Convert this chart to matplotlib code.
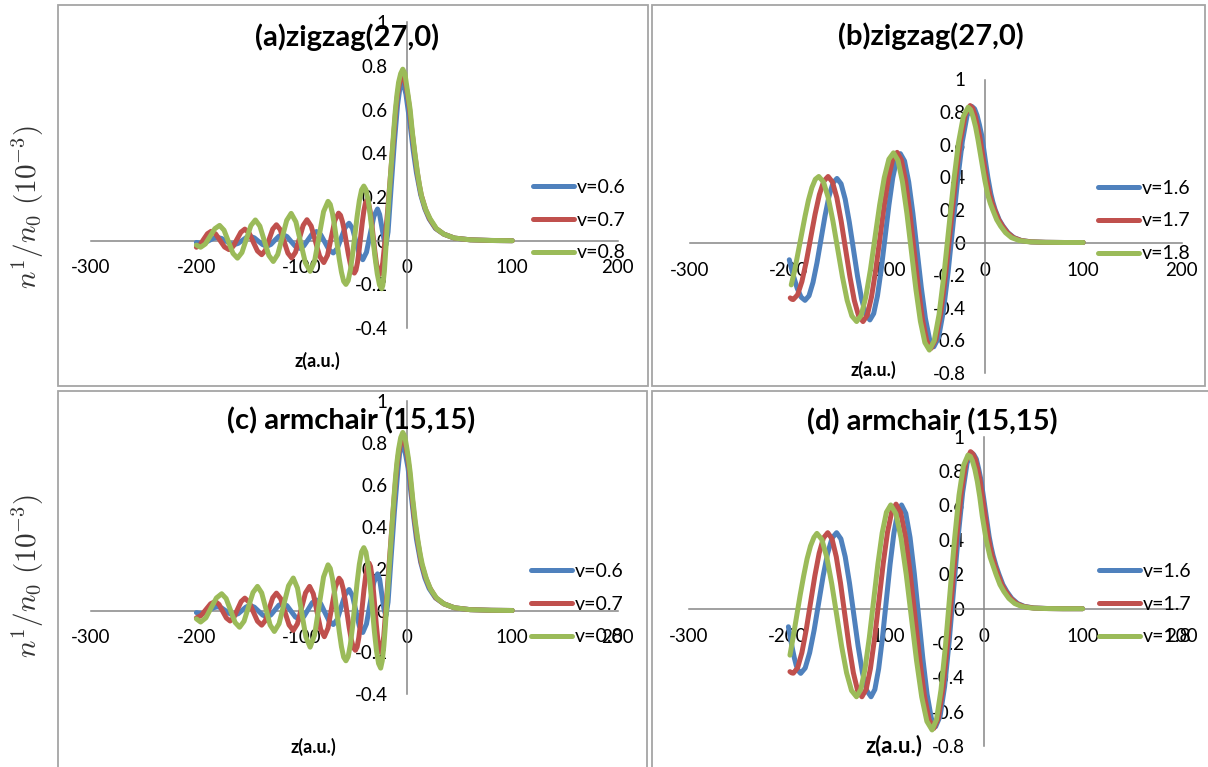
import numpy as np
import matplotlib.pyplot as plt
from matplotlib.patches import Rectangle

plt.rcParams['font.family'] = ['Lato', 'DejaVu Sans']
plt.rcParams['mathtext.fontset'] = 'cm'

W, H = 1208, 767

# ---- data: (z, n1/n0) pairs ----
# panel (a) zigzag(27,0), low speeds
a_v06 = [(-200, -0.008), (-195, -0.012), (-191.25, -0.008), (-187.5, 0.002), (-183.75, 0.011), (-180, 0.015),
         (-176, 0.010), (-172, -0.002), (-168, -0.013), (-164, -0.018), (-160.25, -0.012), (-156.5, 0.001),
         (-152.75, 0.014), (-149, 0.020), (-145, 0.013), (-141, -0.003), (-137, -0.018), (-133, -0.025),
         (-129.25, -0.017), (-125.5, 0.002), (-121.75, 0.020), (-118, 0.028), (-114, 0.019), (-110, -0.004),
         (-106, -0.026), (-102, -0.035), (-98, -0.024), (-94, 0.004), (-90, 0.031), (-86, 0.042), (-82, 0.028),
         (-78, -0.007), (-74, -0.042), (-70, -0.056), (-66.25, -0.036), (-62.5, 0.012), (-58.75, 0.060),
         (-55, 0.080), (-51.75, 0.056), (-48.5, -0.004), (-45.25, -0.063), (-42, -0.087), (-38.5, -0.053),
         (-35, 0.029), (-31.5, 0.111), (-28, 0.145), (-26, 0.12), (-24, 0.065), (-22, 0.01), (-20, -0.02),
         (-18, 0.04), (-15, 0.25), (-12, 0.45), (-9, 0.62), (-7, 0.69), (-5, 0.725), (-3, 0.71), (-1, 0.67),
         (1, 0.6), (3, 0.53), (6, 0.41), (9, 0.31), (13, 0.21), (17, 0.145), (21, 0.10), (27, 0.056),
         (35, 0.03), (45, 0.012), (60, 0.004), (80, 0.001), (100, 0.0)]
a_v07 = [(-200, -0.03), (-196.5, -0.019), (-193, 0.007), (-189.5, 0.032), (-186, 0.043), (-181.75, 0.031),
         (-177.5, 0.001), (-173.25, -0.029), (-169, -0.041), (-165.25, -0.027), (-161.5, 0.006), (-157.75, 0.039),
         (-154, 0.053), (-150, 0.036), (-146, -0.006), (-142, -0.047), (-138, -0.064), (-134.5, -0.044),
         (-131, 0.005), (-127.5, 0.053), (-124, 0.073), (-120.4, 0.051), (-116.75, -0.003), (-113.1, -0.057),
         (-109.5, -0.079), (-105.9, -0.053), (-102.25, 0.009), (-98.6, 0.07), (-95, 0.096), (-91, 0.067),
         (-87, -0.002), (-83, -0.071), (-79, -0.10), (-75.5, -0.067), (-72, 0.013), (-68.5, 0.093), (-65, 0.126),
         (-63.13, 0.116), (-61.25, 0.086), (-59.38, 0.042), (-57.5, -0.011), (-55.63, -0.063), (-53.75, -0.108),
         (-51.88, -0.138), (-50, -0.148), (-48.5, -0.135), (-47, -0.099), (-45.5, -0.045), (-44, 0.019),
         (-42.5, 0.082), (-41, 0.136), (-39.5, 0.172), (-38, 0.185), (-36.5, 0.172), (-35, 0.135),
         (-33.5, 0.080), (-32, 0.015), (-30.5, -0.050), (-29, -0.105), (-27.5, -0.142), (-26, -0.155),
         (-24.5, -0.14), (-23, -0.10), (-21.5, -0.03), (-20, 0.05), (-18.5, 0.13), (-17, 0.22), (-15.5, 0.31),
         (-14, 0.40), (-12.5, 0.49), (-11, 0.58), (-9.5, 0.65), (-8, 0.70), (-6, 0.745), (-4.5, 0.76),
         (-3, 0.75), (-1, 0.71), (0.5, 0.67), (2, 0.62), (4.5, 0.51), (7, 0.41), (9.5, 0.32), (11.5, 0.26),
         (13.5, 0.21), (17.5, 0.145), (21.5, 0.10), (27.5, 0.056), (35, 0.03), (45, 0.012), (60, 0.004),
         (80, 0.001), (100, 0.0)]
a_v08 = [(-200, -0.02), (-196, -0.03), (-191.5, -0.015), (-187, 0.02), (-182.5, 0.055), (-178, 0.07),
         (-173.75, 0.048), (-169.5, -0.005), (-165.25, -0.058), (-161, -0.08), (-156.75, -0.054), (-152.5, 0.008),
         (-148.25, 0.069), (-144, 0.095), (-139.75, 0.067), (-135.5, 0.0), (-131.25, -0.067), (-127, -0.095),
         (-122.75, -0.063), (-118.5, 0.015), (-114.25, 0.093), (-110, 0.125), (-105.5, 0.086), (-101, -0.008),
         (-96.5, -0.101), (-92, -0.14), (-87.75, -0.093), (-83.5, 0.02), (-79.25, 0.133), (-75, 0.18),
         (-72.88, 0.166), (-70.75, 0.124), (-68.63, 0.063), (-66.5, -0.01), (-64.38, -0.083), (-62.25, -0.144),
         (-60.13, -0.186), (-58, -0.2), (-55.88, -0.183), (-53.75, -0.134), (-51.63, -0.061), (-49.5, 0.025),
         (-47.38, 0.111), (-45.25, 0.184), (-43.13, 0.233), (-41, 0.25), (-38.88, 0.232), (-36.75, 0.181),
         (-34.63, 0.105), (-32.5, 0.015), (-30.38, -0.075), (-28.25, -0.151), (-26.13, -0.202), (-24, -0.22),
         (-23, -0.205), (-21.5, -0.14), (-20, -0.03), (-18.5, 0.1), (-17, 0.21), (-15.5, 0.31), (-14, 0.41),
         (-12.5, 0.51), (-11, 0.6), (-9.5, 0.67), (-8, 0.725), (-6, 0.765), (-4, 0.785), (-2, 0.765),
         (0, 0.70), (1.5, 0.65), (3, 0.6), (5, 0.5), (7.5, 0.4), (10, 0.31), (12, 0.25), (14, 0.2), (18, 0.14),
         (22, 0.1), (28, 0.055), (35, 0.03), (45, 0.012), (60, 0.004), (80, 0.001), (100, 0.0)]

# panel (b) zigzag(27,0), high speeds
b_v16 = [(-199, -0.106), (-195, -0.2), (-191, -0.28), (-187, -0.335), (-183, -0.355),
         (-178.94, -0.327), (-174.88, -0.245), (-170.81, -0.124), (-166.75, 0.019), (-162.69, 0.162),
         (-158.63, 0.283), (-154.56, 0.365), (-150.5, 0.393),
         (-146.31, 0.360), (-142.13, 0.266), (-137.94, 0.125), (-133.75, -0.041), (-129.56, -0.207),
         (-125.38, -0.348), (-121.19, -0.442), (-117, -0.475),
         (-113.13, -0.436), (-109.25, -0.326), (-105.38, -0.160), (-101.5, 0.035), (-97.63, 0.230),
         (-93.75, 0.396), (-89.88, 0.506), (-86, 0.545),
         (-81.75, 0.500), (-77.5, 0.371), (-73.25, 0.179), (-69, -0.048), (-64.75, -0.274),
         (-60.5, -0.466), (-56.25, -0.595), (-52, -0.64),
         (-47.16, -0.584), (-42.33, -0.424), (-37.49, -0.185), (-32.65, 0.098), (-27.81, 0.380),
         (-22.98, 0.619), (-18.14, 0.779), (-13.3, 0.835),
         (-10.5, 0.82), (-8, 0.78), (-5.5, 0.72), (-3, 0.65), (-1, 0.565), (1, 0.48), (3, 0.40), (6, 0.30),
         (8, 0.25), (10.5, 0.20), (14.5, 0.14), (18.5, 0.10), (23.5, 0.06), (29.5, 0.03), (37, 0.012),
         (47, 0.004), (62, 0.001), (80, 0.0), (100, 0.0)]
b_v17 = [(-198, -0.34), (-196.5, -0.348), (-195, -0.35),
         (-190.56, -0.321), (-186.13, -0.239), (-181.69, -0.117), (-177.25, 0.028), (-172.81, 0.172),
         (-168.38, 0.294), (-163.94, 0.376), (-159.5, 0.405),
         (-155.06, 0.371), (-150.63, 0.275), (-146.19, 0.130), (-141.75, -0.04), (-137.31, -0.210),
         (-132.88, -0.355), (-128.44, -0.451), (-124, -0.485),
         (-119.66, -0.446), (-115.33, -0.333), (-110.99, -0.165), (-106.65, 0.034), (-102.31, 0.233),
         (-97.98, 0.401), (-93.64, 0.514), (-89.3, 0.553),
         (-84.99, 0.507), (-80.68, 0.377), (-76.36, 0.182), (-72.05, -0.049), (-67.74, -0.279),
         (-63.43, -0.474), (-59.11, -0.604), (-54.8, -0.65),
         (-49.83, -0.593), (-44.85, -0.432), (-39.88, -0.190), (-34.9, 0.095), (-29.93, 0.380),
         (-24.95, 0.622), (-19.98, 0.783), (-15, 0.84),
         (-12.5, 0.825), (-10, 0.78), (-7.5, 0.715), (-5, 0.64), (-2.5, 0.545), (0, 0.45), (2, 0.38),
         (5, 0.29), (7.5, 0.24), (10, 0.20), (14, 0.14), (18, 0.10), (23, 0.06), (29, 0.03), (37, 0.012),
         (47, 0.004), (62, 0.001), (80, 0.0), (100, 0.0)]
b_v18 = [(-197, -0.26), (-193.5, -0.17), (-190, -0.06), (-186.5, 0.05), (-183, 0.16), (-179.5, 0.26),
         (-176, 0.337), (-172.5, 0.388), (-169, 0.405),
         (-164.19, 0.371), (-159.38, 0.275), (-154.56, 0.130), (-149.75, -0.04), (-144.94, -0.210),
         (-140.13, -0.355), (-135.31, -0.451), (-130.5, -0.485),
         (-125.81, -0.446), (-121.13, -0.333), (-116.44, -0.166), (-111.75, 0.033), (-107.06, 0.231),
         (-102.38, 0.398), (-97.69, 0.511), (-93, 0.55),
         (-88.44, 0.504), (-83.88, 0.373), (-79.31, 0.177), (-74.75, -0.055), (-70.19, -0.287),
         (-65.63, -0.483), (-61.06, -0.614), (-56.5, -0.66),
         (-51.56, -0.603), (-46.63, -0.442), (-41.69, -0.200), (-36.75, 0.085), (-31.81, 0.370),
         (-26.88, 0.612), (-21.94, 0.773), (-17, 0.83),
         (-14.5, 0.815), (-12, 0.77), (-9.5, 0.71), (-7, 0.63), (-4.5, 0.54), (-2, 0.45), (0, 0.38),
         (3, 0.29), (5.5, 0.24), (8, 0.20), (12, 0.14), (16, 0.10), (21, 0.06), (27, 0.03), (35, 0.012),
         (45, 0.004), (60, 0.001), (80, 0.0), (100, 0.0)]

# panel (c) armchair (15,15), low speeds
c_v06 = [(-200, -0.01), (-195, -0.015), (-191.25, -0.01), (-187.5, 0.002), (-183.75, 0.013), (-180, 0.018),
         (-176, 0.012), (-172, -0.002), (-168, -0.016), (-164, -0.022), (-160.25, -0.015), (-156.5, 0.001),
         (-152.75, 0.017), (-149, 0.024), (-145, 0.016), (-141, -0.003), (-137, -0.022), (-133, -0.03),
         (-129.25, -0.021), (-125.5, 0.002), (-121.75, 0.025), (-118, 0.034), (-114, 0.023), (-110, -0.004),
         (-106, -0.031), (-102, -0.042), (-98, -0.029), (-94, 0.004), (-90, 0.037), (-86, 0.05), (-82, 0.033),
         (-78, -0.009), (-74, -0.05), (-70, -0.067), (-66.25, -0.043), (-62.5, 0.017), (-58.75, 0.076),
         (-55, 0.10), (-51.75, 0.07), (-48.5, -0.003), (-45.25, -0.075), (-42, -0.105), (-38.5, -0.064),
         (-35, 0.035), (-31.5, 0.134), (-28, 0.175), (-26, 0.15), (-24, 0.08), (-22, 0.01), (-20, -0.025),
         (-18, 0.04), (-15, 0.26), (-12, 0.47), (-9, 0.65), (-7, 0.75), (-5, 0.80), (-3, 0.785), (-1, 0.735),
         (1, 0.68), (4, 0.55), (6.5, 0.44), (9, 0.34), (13, 0.23), (17, 0.155), (21, 0.105), (27, 0.06),
         (35, 0.032), (45, 0.013), (60, 0.004), (80, 0.001), (100, 0.0)]
c_v07 = [(-200, -0.035), (-195.5, -0.024), (-191, 0.004), (-186.5, 0.032), (-182, 0.043), (-178.5, 0.029),
         (-175, -0.004), (-171.5, -0.036), (-168, -0.05), (-164.5, -0.034), (-161, 0.005), (-157.5, 0.043),
         (-154, 0.059), (-150, 0.04), (-146, -0.006), (-142, -0.051), (-138, -0.07), (-134.5, -0.048),
         (-131, 0.007), (-127.5, 0.061), (-124, 0.083), (-120, 0.057), (-116, -0.006), (-112, -0.069),
         (-108, -0.095), (-104.1, -0.064), (-100.25, 0.01), (-96.4, 0.084), (-92.5, 0.115), (-89, 0.08),
         (-85.5, -0.005), (-82, -0.09), (-78.5, -0.125), (-75, -0.084), (-71.5, 0.015), (-68, 0.113),
         (-64.5, 0.154), (-62.56, 0.141), (-60.63, 0.104), (-58.69, 0.048), (-56.75, -0.018), (-54.81, -0.084),
         (-52.88, -0.140), (-50.94, -0.177), (-49, -0.19), (-47.38, -0.174), (-45.75, -0.129), (-44.13, -0.062),
         (-42.5, 0.018), (-40.88, 0.098), (-39.25, 0.165), (-37.63, 0.210), (-36, 0.226), (-34.63, 0.210),
         (-33.25, 0.164), (-31.88, 0.095), (-30.5, 0.013), (-29.13, -0.069), (-27.75, -0.138),
         (-26.38, -0.184), (-25, -0.2), (-23.5, -0.18), (-22, -0.12), (-20.5, -0.02), (-19, 0.08),
         (-17, 0.22), (-15.5, 0.32), (-14, 0.42), (-12.5, 0.52), (-11, 0.61), (-9.5, 0.69), (-8, 0.75),
         (-6, 0.80), (-4.5, 0.83), (-2.5, 0.815), (-1, 0.78), (0.5, 0.735), (2, 0.68), (4.5, 0.56), (7, 0.44),
         (9.5, 0.35), (11.5, 0.29), (13.5, 0.23), (17.5, 0.16), (21.5, 0.11), (27.5, 0.06), (35, 0.032),
         (45, 0.013), (60, 0.004), (80, 0.001), (100, 0.0)]
c_v08 = [(-200, -0.04), (-196, -0.055), (-191, -0.035), (-186, 0.013), (-181, 0.06), (-176, 0.08),
         (-171.75, 0.057), (-167.5, 0.0), (-163.25, -0.057), (-159, -0.08), (-154.75, -0.051), (-150.5, 0.018),
         (-146.25, 0.086), (-142, 0.115), (-138, 0.084), (-134, 0.008), (-130, -0.069), (-126, -0.10),
         (-121.5, -0.063), (-117, 0.028), (-112.5, 0.118), (-108, 0.155), (-104, 0.107), (-100, -0.01),
         (-96, -0.127), (-92, -0.175), (-87.75, -0.117), (-83.5, 0.022), (-79.25, 0.16), (-75, 0.218),
         (-72.88, 0.201), (-70.75, 0.151), (-68.63, 0.077), (-66.5, -0.011), (-64.38, -0.099), (-62.25, -0.173),
         (-60.13, -0.223), (-58, -0.24), (-55.88, -0.220), (-53.75, -0.161), (-51.63, -0.073), (-49.5, 0.03),
         (-47.38, 0.133), (-45.25, 0.221), (-43.13, 0.280), (-41, 0.30), (-39, 0.278), (-37, 0.216),
         (-35, 0.123), (-33, 0.013), (-31, -0.098), (-29, -0.191), (-27, -0.253), (-25, -0.275),
         (-23.5, -0.24), (-22, -0.17), (-20.5, -0.07), (-19, 0.05), (-17, 0.2), (-15.5, 0.31), (-14, 0.42),
         (-12.5, 0.53), (-11, 0.63), (-9.5, 0.71), (-8, 0.77), (-6, 0.825), (-4, 0.85), (-2, 0.83), (0, 0.77),
         (1.5, 0.72), (3, 0.66), (5.5, 0.53), (8, 0.42), (10.5, 0.33), (12.5, 0.27), (14.5, 0.22),
         (18.5, 0.15), (22.5, 0.10), (28, 0.06), (35, 0.032), (45, 0.013), (60, 0.004), (80, 0.001), (100, 0.0)]

# panel (d) armchair (15,15), high speeds
d_v16 = [(-199, -0.105), (-197, -0.17), (-195, -0.23), (-193, -0.285), (-191, -0.33), (-189, -0.36),
         (-186.5, -0.376),
         (-181.94, -0.345), (-177.38, -0.256), (-172.81, -0.124), (-168.25, 0.033), (-163.69, 0.190),
         (-159.13, 0.322), (-154.56, 0.411), (-150, 0.442),
         (-145.63, 0.406), (-141.25, 0.302), (-136.88, 0.148), (-132.5, -0.035), (-128.13, -0.218),
         (-123.75, -0.372), (-119.38, -0.476), (-115, -0.512),
         (-111.13, -0.470), (-107.25, -0.349), (-103.38, -0.168), (-99.5, 0.046), (-95.63, 0.259),
         (-91.75, 0.440), (-87.88, 0.561), (-84, 0.603),
         (-79.68, 0.554), (-75.35, 0.414), (-71.03, 0.205), (-66.7, -0.042), (-62.38, -0.288),
         (-58.05, -0.497), (-53.73, -0.637), (-49.4, -0.686),
         (-44.83, -0.625), (-40.25, -0.453), (-35.68, -0.195), (-31.1, 0.111), (-26.53, 0.416),
         (-21.95, 0.674), (-17.38, 0.847), (-12.8, 0.907),
         (-10.5, 0.895), (-8, 0.87), (-5.5, 0.81), (-3, 0.74), (-0.5, 0.64), (2, 0.54), (5, 0.42), (7, 0.36),
         (9, 0.31), (12, 0.25), (15, 0.20), (19, 0.14), (23, 0.10), (28, 0.06), (34, 0.03), (41, 0.013),
         (51, 0.004), (65, 0.001), (80, 0.0), (100, 0.0)]
d_v17 = [(-197.4, -0.366), (-195.7, -0.373), (-194, -0.375),
         (-189.63, -0.344), (-185.25, -0.255), (-180.88, -0.123), (-176.5, 0.034), (-172.13, 0.190),
         (-167.75, 0.322), (-163.38, 0.411), (-159, 0.442),
         (-154.66, 0.406), (-150.33, 0.302), (-145.99, 0.148), (-141.65, -0.035), (-137.31, -0.218),
         (-132.98, -0.372), (-128.64, -0.476), (-124.3, -0.512),
         (-119.96, -0.469), (-115.63, -0.348), (-111.29, -0.167), (-106.95, 0.048), (-102.61, 0.263),
         (-98.28, 0.444), (-93.94, 0.565), (-89.6, 0.608),
         (-84.8, 0.558), (-80, 0.417), (-75.2, 0.206), (-70.4, -0.044), (-65.6, -0.294),
         (-60.8, -0.505), (-56, -0.646), (-51.2, -0.696),
         (-46.54, -0.635), (-41.88, -0.460), (-37.21, -0.200), (-32.55, 0.109), (-27.89, 0.417),
         (-23.23, 0.677), (-18.56, 0.852), (-13.9, 0.913),
         (-11.5, 0.90), (-9, 0.87), (-6.5, 0.81), (-4, 0.74), (-1.5, 0.64), (1, 0.54), (4, 0.42), (6, 0.36),
         (8, 0.31), (11, 0.25), (14, 0.20), (18, 0.14), (22, 0.10), (27, 0.06), (33, 0.03), (40, 0.013),
         (50, 0.004), (64, 0.001), (80, 0.0), (100, 0.0)]
d_v18 = [(-197.4, -0.27), (-194, -0.16), (-190.5, -0.04), (-187, 0.08), (-183.5, 0.19), (-180, 0.29),
         (-176.5, 0.365), (-173, 0.415), (-170, 0.438),
         (-164.98, 0.402), (-159.95, 0.299), (-154.93, 0.145), (-149.9, -0.037), (-144.88, -0.219),
         (-139.85, -0.373), (-134.83, -0.476), (-129.8, -0.512),
         (-125.45, -0.470), (-121.1, -0.349), (-116.75, -0.168), (-112.4, 0.046), (-108.05, 0.259),
         (-103.7, 0.440), (-99.35, 0.561), (-95, 0.603),
         (-89.75, 0.553), (-84.5, 0.411), (-79.25, 0.200), (-74, -0.051), (-68.75, -0.302),
         (-63.5, -0.513), (-58.25, -0.655), (-53, -0.705),
         (-48.44, -0.644), (-43.88, -0.471), (-39.31, -0.212), (-34.75, 0.094), (-30.19, 0.400),
         (-25.63, 0.659), (-21.06, 0.832), (-16.5, 0.893),
         (-14, 0.885), (-12, 0.86), (-9.5, 0.81), (-7, 0.74), (-4.5, 0.65), (-2, 0.54), (0, 0.47), (2, 0.40),
         (4, 0.35), (6, 0.30), (9, 0.25), (12, 0.20), (16, 0.14), (20, 0.10), (25, 0.06), (31, 0.03),
         (38, 0.013), (48, 0.004), (62, 0.001), (80, 0.0), (100, 0.0)]

low_labels = ['v=0.6', 'v=0.7', 'v=0.8']
high_labels = ['v=1.6', 'v=1.7', 'v=1.8']
x_ticks = [-300, -200, -100, 0, 100, 200]
y_ticks_short = [-0.4, -0.2, 0, 0.2, 0.4, 0.6, 0.8, 1]
y_ticks_long = [-0.8, -0.6, -0.4, -0.2, 0, 0.2, 0.4, 0.6, 0.8, 1]

colors = ['#4F81BD', '#C0504D', '#9BBB59']


def px_rect(x0, x1, ytop, ybot):
    return [x0 / W, 1 - ybot / H, (x1 - x0) / W, (ybot - ytop) / H]


def fmt(v):
    if abs(v) < 1e-9:
        return '0'
    if abs(v - 1) < 1e-9:
        return '1'
    return '%.1f' % v


panels = [
    dict(rect=px_rect(91.1, 617.6, 22.2, 328.1), ylim=(-0.4, 1), yt=y_ticks_short,
         curves=[a_v06, a_v07, a_v08], labels=low_labels, title='(a)zigzag(27,0)', tpos=(347, 37),
         leg=(533, 220), xlab=(317, 361), xlab_fs=13, xpad=13, frame=(58, 5, 648, 386)),
    dict(rect=px_rect(690, 1181.5, 79.5, 372.9), ylim=(-0.8, 1), yt=y_ticks_long,
         curves=[b_v16, b_v17, b_v18], labels=high_labels, title='(b)zigzag(27,0)', tpos=(931, 36),
         leg=(1098, 221), xlab=(873, 370), xlab_fs=13, xpad=14, frame=(652, 5, 1205, 386)),
    dict(rect=px_rect(91.1, 617.6, 401, 694.3), ylim=(-0.4, 1), yt=y_ticks_short,
         curves=[c_v06, c_v07, c_v08], labels=low_labels, title='(c) armchair (15,15)', tpos=(351, 421),
         leg=(531, 604), xlab=(313, 747), xlab_fs=13, xpad=13, frame=(58, 391, 647, 772)),
    dict(rect=px_rect(689, 1181, 436.7, 746.3), ylim=(-0.8, 1), yt=y_ticks_long,
         curves=[d_v16, d_v17, d_v18], labels=high_labels, title='(d) armchair (15,15)', tpos=(932, 422),
         leg=(1099, 604), xlab=(894, 746), xlab_fs=16, xpad=14, frame=(652, 391, 1212, 772)),
]

fig = plt.figure(figsize=(W / 100, H / 100), dpi=100)
fig.patch.set_facecolor('white')

for p in panels:
    x0, y0, x1, y1 = p['frame']
    fig.add_artist(Rectangle((x0 / W, 1 - y1 / H), (x1 - x0) / W, (y1 - y0) / H,
                             transform=fig.transFigure, fill=False, ec='#A5A5A5', lw=1.3))

    ax = fig.add_axes(p['rect'])
    ax.patch.set_alpha(0)
    for pts, c, lab in zip(p['curves'], colors, p['labels']):
        arr = np.array(pts)
        ax.plot(arr[:, 0], arr[:, 1], color=c, lw=3.6, label=lab, zorder=3,
                solid_joinstyle='round', solid_capstyle='round')
    ax.set_xlim(-300, 200)
    ax.set_ylim(*p['ylim'])
    ax.spines['left'].set_position(('data', 0))
    ax.spines['bottom'].set_position(('data', 0))
    ax.spines['top'].set_visible(False)
    ax.spines['right'].set_visible(False)
    for s in ('left', 'bottom'):
        ax.spines[s].set_color('#868686')
        ax.spines[s].set_linewidth(1.1)
    ax.set_xticks(x_ticks)
    ax.set_xticklabels([str(t) for t in x_ticks])
    ax.set_yticks(p['yt'])
    ax.set_yticklabels([fmt(v) for v in p['yt']])
    ax.tick_params(axis='x', length=0, labelsize=13.5, pad=p['xpad'])
    ax.tick_params(axis='y', length=0, labelsize=13.5, pad=14)

    lx, ly = p['leg']
    ax.legend(loc='center left', bbox_to_anchor=(lx / W, 1 - ly / H), bbox_transform=fig.transFigure,
              frameon=False, fontsize=14, handlelength=2.1, handletextpad=0.15,
              labelspacing=0.82, borderpad=0, borderaxespad=0)

    tx, ty = p['tpos']
    fig.text(tx / W, 1 - ty / H, p['title'], ha='center', va='center', fontsize=21, fontweight='bold')
    xx, xy = p['xlab']
    fig.text(xx / W, 1 - xy / H, 'z(a.u.)', ha='center', va='center', fontsize=p['xlab_fs'],
             fontweight='bold')

for yc in (207, 576):
    fig.text(28 / W, 1 - yc / H, r'$n^1/n_0\ (10^{-3})$', rotation=90, ha='center', va='center',
             fontsize=21, color='#333333')

fig.savefig('out.png', dpi=100)
